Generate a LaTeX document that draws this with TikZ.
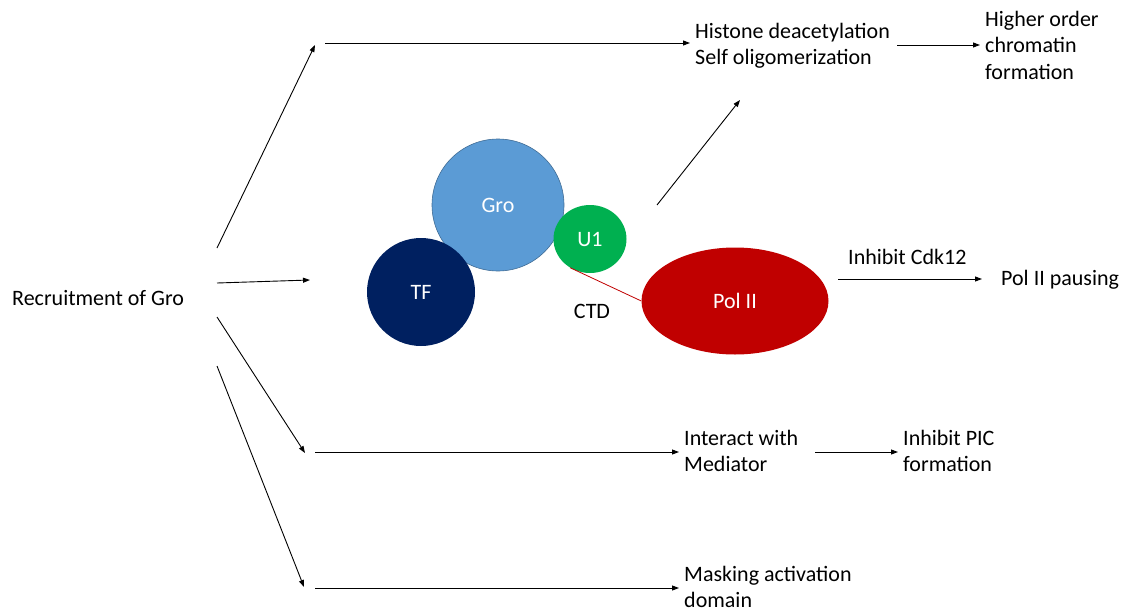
\documentclass[tikz,border=0pt]{standalone}
\usepackage{fontspec}
\setmainfont{Carlito}
\usetikzlibrary{arrows.meta,shapes.geometric}
\definecolor{groblue}{HTML}{5B9BD5}
\definecolor{tfnavy}{HTML}{002060}
\definecolor{uonegreen}{HTML}{00B050}
\definecolor{polred}{HTML}{C00000}
\tikzset{
  arr/.style={draw=black, line width=0.9pt, -{Triangle[length=7pt,width=5pt]}},
  lbl/.style={inner sep=0pt, align=left, anchor=west, font=\fontsize{22}{26.5}\selectfont},
  blob/.style={inner sep=0pt, text=white, font=\fontsize{22}{26}\selectfont},
}
\begin{document}
\begin{tikzpicture}[x=1pt,y=-1pt]
\useasboundingbox (0,0) rectangle (1127,613);
% molecules
\node[blob, circle, fill=groblue, draw=groblue!70!black, line width=0.6pt, minimum size=132pt] (gro) at (498,205) {Gro};
\node[blob, circle, fill=tfnavy, minimum size=108pt] (tf) at (421,292) {TF};
\node[blob, ellipse, fill=uonegreen, minimum width=73pt, minimum height=68pt] (u1) at (590,239) {U1};
\node[blob, ellipse, fill=polred, minimum width=187pt, minimum height=107pt] (pol) at (735,301) {Pol II};
\draw[polred, line width=0.8pt] (u1.-125) -- (pol.west);
\node[lbl, anchor=center] (ctd) at (592,311) {CTD};
% texts
\node[lbl] (rec) at (12,298) {Recruitment of Gro};
\node[lbl] (hist) at (695,46) {Histone deacetylation\\Self oligomerization};
\node[lbl] (high) at (985,45) {Higher order\\chromatin\\formation};
\node[lbl] (cdk) at (848,257) {Inhibit Cdk12};
\node[lbl] (paus) at (1001,280) {Pol II pausing};
\node[lbl] (med) at (684,451) {Interact with\\Mediator};
\node[lbl] (pic) at (903,451) {Inhibit PIC\\formation};
\node[lbl] (mask) at (684,587) {Masking activation\\domain};
% free ends
\coordinate (s1) at (217,248); \coordinate (e1) at (315,45);
\coordinate (s2) at (217,283); \coordinate (e2) at (310,280);
\coordinate (s3) at (217,317); \coordinate (e3) at (305,453);
\coordinate (s4) at (217,366); \coordinate (e4) at (304,587);
\coordinate (h1) at (325,43);
\coordinate (m1) at (315,452);
\coordinate (k1) at (315,588);
\coordinate (d1) at (657,205); \coordinate (d2) at (740,100);
\coordinate (p1) at (838,279); \coordinate (p2) at (982,279);
\draw[arr] (s1) -- (e1);
\draw[arr] (s2) -- (e2);
\draw[arr] (s3) -- (e3);
\draw[arr] (s4) -- (e4);
\draw[arr] (h1) -- ([xshift=-5pt]hist.west |- h1);
\draw[arr] (897,45) -- ([xshift=-5pt]high.west);
\draw[arr] (d1) -- (d2);
\draw[arr] (p1) -- (p2);
\draw[arr] (m1) -- ([xshift=-5pt]med.west |- m1);
\draw[arr] (815,452) -- ([xshift=-5pt]pic.west |- 0,452);
\draw[arr] (k1) -- ([xshift=-5pt]mask.west |- k1);
\end{tikzpicture}
\end{document}
